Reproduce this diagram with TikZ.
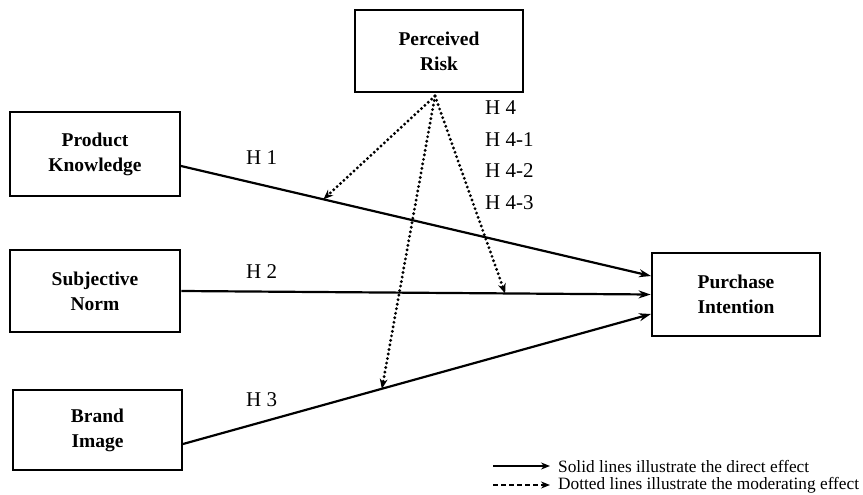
\documentclass[tikz,border=0pt]{standalone}
\usepackage{fontspec}
\setmainfont{Liberation Serif}
\usetikzlibrary{arrows.meta}
\begin{document}
\begin{tikzpicture}[x=1pt,y=-1pt,
  box/.style={draw,line width=2.8pt,minimum width=#1,inner sep=0pt,align=center,font=\fontsize{19.5}{25}\selectfont\bfseries},
  direct/.style={line width=2.2pt,-{Stealth[length=12pt,width=8pt]}},
  moder/.style={line width=3.2pt,line cap=round,dash pattern=on 0pt off 4.6pt,-{Stealth[length=10pt,width=8pt,line width=0pt]}},
  hlab/.style={font=\fontsize{21}{24}\selectfont,anchor=west,inner sep=0pt},
  leg/.style={font=\fontsize{17.3}{19}\selectfont,anchor=west,inner sep=0pt}]
\useasboundingbox (0,0) rectangle (863,495);
\node[box=168pt,minimum height=82pt] (pr) at (439,51) {Perceived\\Risk};
\node[box=170pt,minimum height=84pt] (pk) at (95,154) {Product\\Knowledge};
\node[box=170pt,minimum height=82pt] (sn) at (95,291) {Subjective\\Norm};
\node[box=169pt,minimum height=80pt] (bi) at (97.5,430) {Brand\\Image};
\node[box=168pt,minimum height=83pt] (pi) at (736,294.5) {Purchase\\Intention};
\coordinate (pks) at (181,166);
\coordinate (pie1) at (651,276);
\coordinate (pie3) at (651,314);
\coordinate (bis) at (183,444);
\coordinate (src) at (435,96);
\draw[direct] (pks) -- (pie1) coordinate[pos=0.303] (m1);
\draw[direct] (sn.east) -- (pi.west) coordinate[pos=0.69] (m2);
\draw[direct] (bis) -- (pie3) coordinate[pos=0.425] (m3);
\draw[moder] (src) -- (m1);
\draw[moder] (src) -- (m2);
\draw[moder] (src) -- (m3);
\node[hlab] (h1) at (246,158) {H 1};
\node[hlab] (h2) at (246,272) {H 2};
\node[hlab] (h3) at (246,400) {H 3};
\node[hlab] (h4) at (485,108) {H 4};
\node[hlab] (h41) at (485,140) {H 4-1};
\node[hlab] (h42) at (485,171) {H 4-2};
\node[hlab] (h43) at (485,203) {H 4-3};
\coordinate (l1a) at (493,466);
\coordinate (l1b) at (550,466);
\coordinate (l2a) at (493,485);
\coordinate (l2b) at (550,485);
\draw[line width=1.5pt,-{Stealth[length=9pt,width=7pt]}] (l1a) -- (l1b);
\draw[line width=1.6pt,dash pattern=on 5pt off 3pt,-{Stealth[length=9pt,width=7pt]}] (l2a) -- (l2b);
\node[leg] (t1) at (558,466) {Solid lines illustrate the direct effect};
\node[leg] (t2) at (558,485) {Dotted lines illustrate the moderating effect};
\end{tikzpicture}
\end{document}
